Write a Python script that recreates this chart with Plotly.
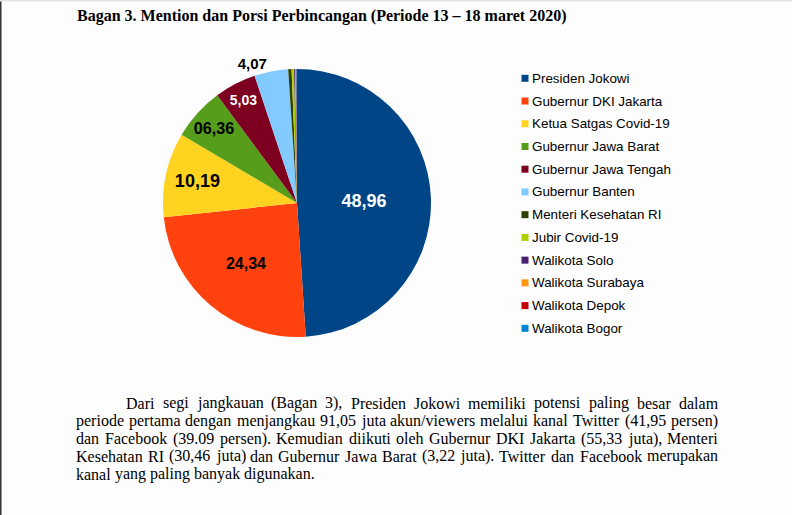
import plotly.graph_objects as go

W, H = 792, 515

labels = ["Presiden Jokowi", "Gubernur DKI Jakarta", "Ketua Satgas Covid-19",
          "Gubernur Jawa Barat", "Gubernur Jawa Tengah", "Gubernur Banten",
          "Menteri Kesehatan RI", "Jubir Covid-19", "Walikota Solo",
          "Walikota Surabaya", "Walikota Depok", "Walikota Bogor"]
values = [48.96, 24.34, 10.19, 6.36, 5.03, 4.07, 0.40, 0.30, 0.10, 0.10, 0.08, 0.07]
value_text = ["48,96", "24,34", "10,19", "06,36", "5,03", "4,07", "", "", "", "", "", ""]
colors = ["#004586", "#ff420e", "#ffd320", "#579d1c", "#7e0021", "#83caff",
          "#314004", "#aecf00", "#4b1f6f", "#ff950e", "#c5000b", "#0084d1"]

title_text = "Bagan 3. Mention dan Porsi Perbincangan (Periode 13 \u2013 18 maret 2020)"

paragraph = [
    "Dari segi jangkauan (Bagan 3), Presiden Jokowi memiliki potensi paling besar dalam",
    "periode pertama dengan menjangkau 91,05 juta akun/viewers melalui kanal Twitter (41,95 persen)",
    "dan Facebook (39.09 persen). Kemudian diikuti oleh Gubernur DKI Jakarta (55,33 juta), Menteri",
    "Kesehatan RI (30,46 juta) dan Gubernur Jawa Barat (3,22 juta). Twitter dan Facebook merupakan",
    "kanal yang paling banyak digunakan.",
]

# rough Times widths (per 1000 em) to justify the paragraph
TIMES = dict(zip("abcdefghijklmnopqrstuvwxyz",
                 [444, 500, 444, 500, 444, 333, 500, 500, 278, 278, 500, 278, 778,
                  500, 500, 500, 500, 333, 389, 278, 500, 500, 722, 500, 500, 444]))
TIMES.update(dict(zip("ABCDEFGHIJKLMNOPQRSTUVWXYZ",
                      [722, 667, 667, 722, 611, 556, 722, 722, 333, 389, 722, 611, 889,
                       722, 722, 556, 722, 667, 556, 611, 722, 722, 944, 722, 722, 611])))
TIMES.update({c: 500 for c in "0123456789"})
TIMES.update({",": 250, ".": 250, "(": 333, ")": 333, "/": 278, "-": 333, " ": 250})


def text_width(s, size):
    return sum(TIMES.get(c, 500) for c in s) * size / 1000.0


def px(x):
    return x / W


def py(y):
    return 1 - y / H


fig = go.Figure()

text_pos = ["inside"] * 5 + ["outside"] + ["none"] * 6
text_col = ["white", "black", "black", "black", "white", "black"] + ["black"] * 6
text_size = [18, 16, 18, 18, 14, 15] + [12] * 6

fig.add_trace(go.Pie(
    labels=labels, values=values, text=value_text,
    textinfo="text", textposition=text_pos,
    insidetextorientation="horizontal",
    textfont=dict(family="Liberation Sans", color=text_col, size=text_size, weight="bold"),
    marker=dict(colors=colors, line=dict(width=0)),
    sort=False, direction="clockwise", rotation=0,
    domain=dict(x=[px(163), px(431)], y=[py(337), py(69)]),
    showlegend=False, hoverinfo="label+value",
))

annotations = []
shapes = []

# legend drawn by hand so the row spacing matches
for i, (name, col) in enumerate(zip(labels, colors)):
    yc = 78.3 + i * 22.73
    shapes.append(dict(type="rect", xref="paper", yref="paper",
                       x0=px(521.5), x1=px(528.5), y0=py(yc + 3.5), y1=py(yc - 3.5),
                       fillcolor=col, line=dict(width=0)))
    annotations.append(dict(text=name, x=px(530.5), y=py(yc), xref="paper", yref="paper",
                            xanchor="left", yanchor="middle", showarrow=False, borderpad=0,
                            font=dict(family="Liberation Sans", size=13.4, color="black")))

annotations.append(dict(text="<b>" + title_text + "</b>", x=px(76), y=py(16),
                        xref="paper", yref="paper", xanchor="left", yanchor="middle",
                        showarrow=False, borderpad=0,
                        font=dict(family="Liberation Serif", size=16, color="black")))

# justified paragraph, one annotation per word
fs = 16
left, right = 75, 717
for i, line in enumerate(paragraph):
    yc = 403 + i * 17.8
    words = line.split(" ")
    x0 = left + 50 if i == 0 else left
    if i < len(paragraph) - 1:
        total = sum(text_width(w, fs) for w in words)
        gap = (right - x0 - total) / (len(words) - 1)
    else:
        gap = text_width(" ", fs)
    x = x0
    for w in words:
        annotations.append(dict(text=w, x=px(x), y=py(yc), xref="paper", yref="paper",
                                xanchor="left", yanchor="middle", showarrow=False, borderpad=0,
                                font=dict(family="Liberation Serif", size=fs, color="black")))
        x += text_width(w, fs) + gap

# page edge marks
shapes.append(dict(type="rect", xref="paper", yref="paper", x0=0, x1=px(1.5), y0=0, y1=1,
                   fillcolor="#333333", line=dict(width=0)))
shapes.append(dict(type="rect", xref="paper", yref="paper", x0=0, x1=1, y0=py(1.5), y1=1,
                   fillcolor="#e6e6e6", line=dict(width=0)))

fig.update_layout(
    width=W, height=H,
    margin=dict(l=0, r=0, t=0, b=0),
    paper_bgcolor="#fdfdfd", plot_bgcolor="#fdfdfd",
    annotations=annotations, shapes=shapes,
)

# drop the page's default body margin so the figure sits at the window corner
fig.write_html("out.html", config={"displayModeBar": False},
               post_script="document.body.style.margin='0px';")
